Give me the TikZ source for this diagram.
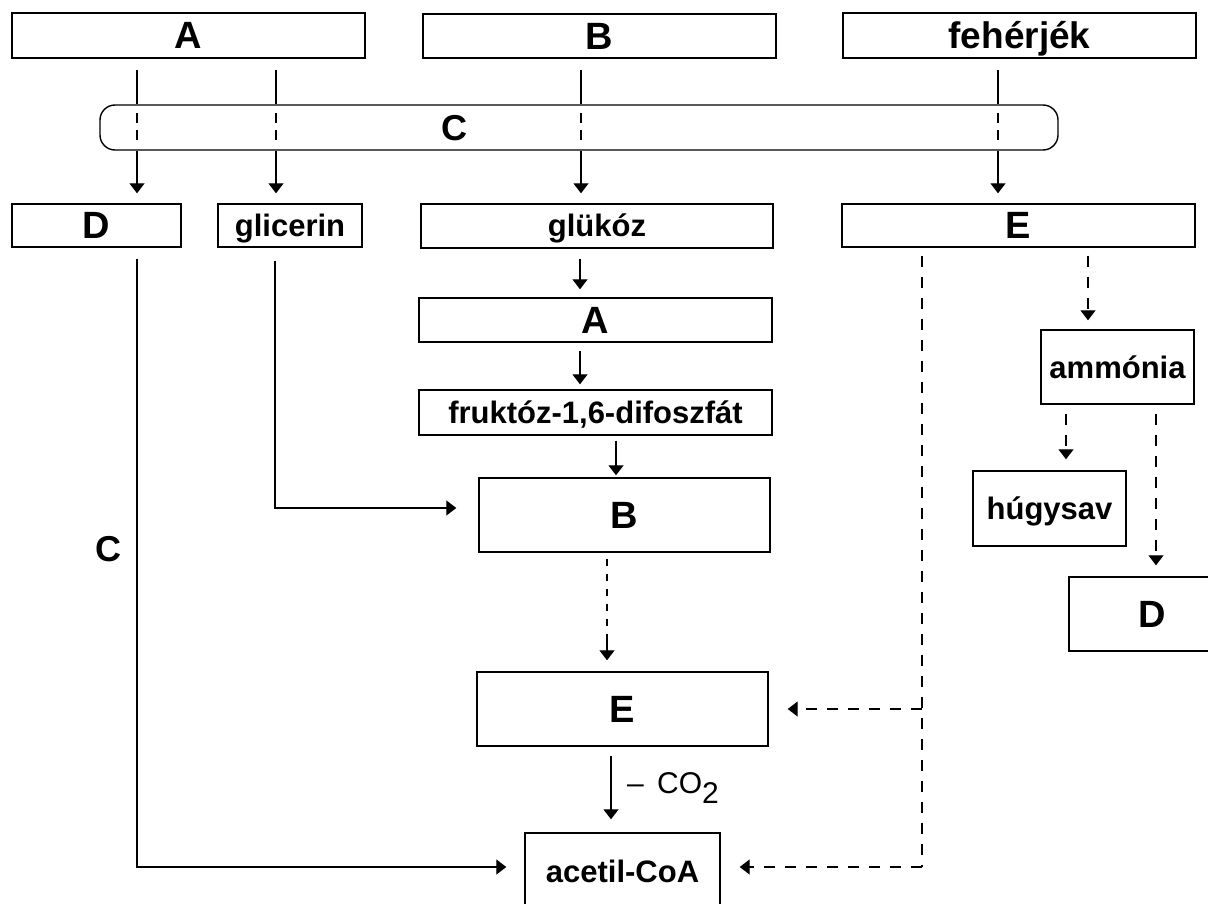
\documentclass[tikz,border=0pt]{standalone}
\usepackage{fontspec}
\setmainfont{Liberation Sans}
\usetikzlibrary{arrows.meta,calc}
\begin{document}
\begin{tikzpicture}[x=1pt,y=-1pt,
  box/.style={draw,line width=1.4pt,inner sep=0pt,font=\bfseries\fontsize{31}{31}\selectfont,text height=22pt,text depth=0pt},
  bigl/.style={font=\bfseries\fontsize{38}{38}\selectfont,text height=27pt,text depth=0pt},
  conn/.style={line width=1.3pt},
  arr/.style={-{Triangle[length=10pt,width=15pt]}},
  ldash/.style={dash pattern=on 11pt off 10pt},
  sdash/.style={dash pattern=on 7pt off 8pt},
  cdash/.style={dash pattern=on 10pt off 7pt}]
\useasboundingbox (0,0) rectangle (1208,904);
% boxes
\node[box,bigl,minimum width=353pt,minimum height=45pt] (A1) at (188.5,35.5) {A};
\node[box,bigl,minimum width=353pt,minimum height=44pt] (B1) at (599.5,36) {B};
\node[box,minimum width=353pt,minimum height=45pt,font=\bfseries\fontsize{37}{37}\selectfont,text height=26pt] (F1) at (1019.5,35.5) {fehérjék};
\node[draw,line width=1.4pt,rounded corners=15pt,minimum width=958pt,minimum height=45pt,inner sep=0pt] (Cbox) at (579,127.5) {};
\node[font=\bfseries\fontsize{36}{36}\selectfont,inner sep=0pt] (Cl) at (454,128) {C};
\node[box,bigl,minimum width=169pt,minimum height=43pt] (D1) at (96.5,225.5) {D};
\node[box,minimum width=144pt,minimum height=43pt] (gli) at (290,225.5) {glicerin};
\node[box,minimum width=352pt,minimum height=44pt] (glu) at (597,226) {glükóz};
\node[box,bigl,minimum width=353pt,minimum height=43pt] (E1) at (1018.5,225.5) {E};
\node[box,bigl,minimum width=353pt,minimum height=44pt] (A2) at (595.5,320) {A};
\node[box,minimum width=353pt,minimum height=45pt] (fru) at (595.5,412.5) {fruktóz-1,6-difoszfát};
\node[box,bigl,minimum width=291pt,minimum height=74pt] (B2) at (624.5,515) {B};
\node[box,bigl,minimum width=291pt,minimum height=74pt] (E2) at (622.5,709) {E};
\node[box,minimum width=195pt,minimum height=77pt] (ace) at (622.5,871.5) {acetil-CoA};
\node[box,minimum width=153pt,minimum height=74pt] (amm) at (1117.5,367) {ammónia};
\node[box,minimum width=153pt,minimum height=75pt] (hug) at (1049.5,508.5) {húgysav};
\node[box,bigl,minimum width=166pt,minimum height=74pt] (D2) at (1152,614) {D};
\node[font=\bfseries\fontsize{36}{36}\selectfont,inner sep=0pt] (Cleft) at (108,549) {C};
\node[anchor=base west,inner sep=0pt,font=\fontsize{30}{30}\selectfont] (co2) at (627,793) {\textendash\ \,CO\raisebox{-10pt}{2}};
% x positions
\coordinate (xa) at (137,0);
\coordinate (xg) at (276,0);
\coordinate (xb) at (581,0);
\coordinate (xf) at (998,0);
% through C box
\foreach \x/\t in {xa/D1,xg/gli,xb/glu,xf/E1}{
  \draw[conn,shorten <=11pt] (A1.south -| \x) -- (Cbox.north -| \x);
  \draw[conn,cdash,shorten <=9pt,shorten >=9pt] (Cbox.north -| \x) -- (Cbox.south -| \x);
  \draw[conn,arr,shorten >=10pt] (Cbox.south -| \x) -- (\t.north -| \x);
}
% glucose chain
\coordinate (xm) at (580,0);
\draw[conn,arr,shorten <=10pt,shorten >=8pt] (glu.south -| xm) -- (A2.north -| xm);
\draw[conn,arr,shorten <=8pt,shorten >=5pt] (A2.south -| xm) -- (fru.north -| xm);
\coordinate (xfr) at (616,0);
\draw[conn,arr,shorten <=5pt,shorten >=2pt] (fru.south -| xfr) -- (B2.north -| xfr);
\coordinate (xbe) at (607,0);
\coordinate (bebreak) at ([yshift=36pt]E2.north -| xbe);
\draw[conn,sdash,shorten <=6pt] (B2.south -| xbe) -- (bebreak);
\draw[conn,arr,shorten >=11pt] (bebreak) -- (E2.north -| xbe);
\coordinate (xea) at (611,0);
\draw[conn,arr,shorten <=9pt,shorten >=13pt] (E2.south -| xea) -- (ace.north -| xea);
% glicerin -> B
\coordinate (yg) at (0,508);
\draw[conn,arr,shorten <=13pt,shorten >=22pt] (gli.south -| 275,0) |- (B2.west |- yg);
% D -> acetil
\coordinate (yd) at (0,867);
\draw[conn,arr,shorten <=11pt,shorten >=18pt] (D1.south -| xa) |- (ace.west |- yd);
% E dashed network
\coordinate (xe) at (922,0);
\coordinate (ye2) at (0,709);
\coordinate (ecorner) at (922,867);
\draw[conn,ldash,shorten <=8pt] (E1.south -| xe) -- (ecorner);
\draw[conn,ldash,arr,shorten >=19pt] (ecorner) -- (ace.east |- yd);
\draw[conn,ldash,arr,shorten >=19pt] (xe |- ye2) -- (E2.east |- ye2);
\coordinate (xam) at (1088,0);
\draw[conn,ldash,arr,shorten <=8pt,shorten >=9pt] (E1.south -| xam) -- (amm.north -| xam);
\coordinate (xh) at (1066,0);
\draw[conn,ldash,arr,shorten <=9pt,shorten >=11pt] (amm.south -| xh) -- (hug.north -| xh);
\coordinate (xd) at (1156,0);
\draw[conn,ldash,arr,shorten <=9pt,shorten >=11pt] (amm.south -| xd) -- (D2.north -| xd);
\end{tikzpicture}
\end{document}
